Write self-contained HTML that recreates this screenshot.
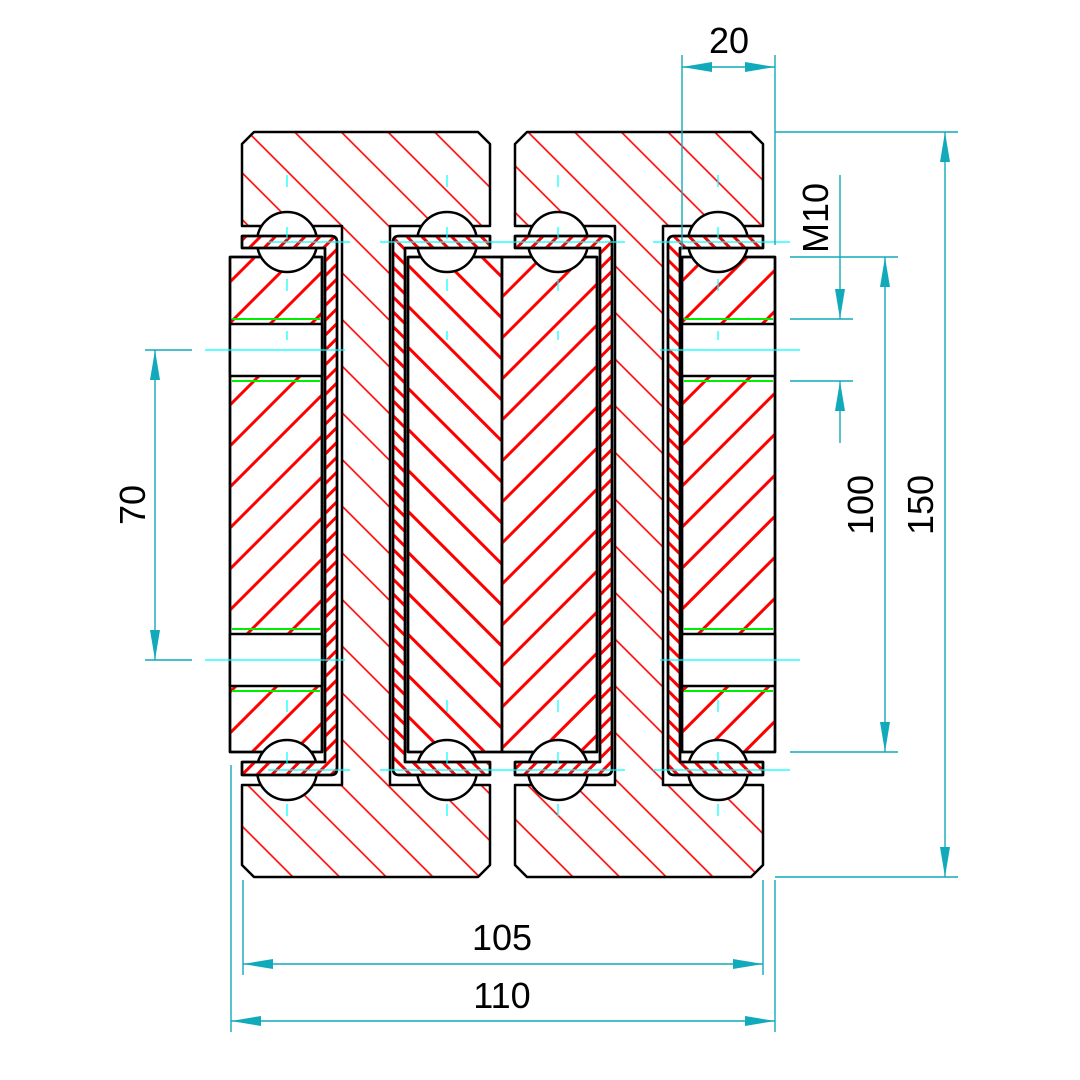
<!DOCTYPE html>
<html><head><meta charset="utf-8"><style>html,body{margin:0;padding:0;background:#fff}svg{display:block}</style></head>
<body>
<svg width="1080" height="1080" viewBox="0 0 1080 1080" xmlns="http://www.w3.org/2000/svg" font-family="Liberation Sans, sans-serif">
<defs>
<pattern id="hh" patternUnits="userSpaceOnUse" width="33" height="33" patternTransform="rotate(-45)"><line x1="16" y1="0" x2="16" y2="33" stroke="#f00" stroke-width="1.6"/></pattern>
<pattern id="sl" patternUnits="userSpaceOnUse" width="29" height="29" patternTransform="rotate(45)"><line x1="14" y1="0" x2="14" y2="29" stroke="#f00" stroke-width="3"/></pattern>
<pattern id="sr" patternUnits="userSpaceOnUse" width="29" height="29" patternTransform="rotate(-45)"><line x1="14" y1="0" x2="14" y2="29" stroke="#f00" stroke-width="3"/></pattern>
<pattern id="ch" patternUnits="userSpaceOnUse" width="10.5" height="10.5" patternTransform="rotate(45)"><line x1="5" y1="0" x2="5" y2="10.5" stroke="#f00" stroke-width="3"/></pattern>
<pattern id="ch2" patternUnits="userSpaceOnUse" width="10.5" height="10.5" patternTransform="rotate(-45)"><line x1="5" y1="0" x2="5" y2="10.5" stroke="#f00" stroke-width="3"/></pattern>
</defs>
<g stroke="#000" stroke-width="2.5" stroke-linejoin="round">
<path d="M254,132 L478,132 L490,144 L490,226 L390,226 L390,785 L490,785 L490,865 L478,877 L254,877 L242,865 L242,785 L342,785 L342,226 L242,226 L242,144 Z" fill="url(#hh)"/>
<path d="M527,132 L751,132 L763,144 L763,226 L663,226 L663,785 L763,785 L763,865 L751,877 L527,877 L515,865 L515,785 L615,785 L615,226 L515,226 L515,144 Z" fill="url(#hh)"/>
<rect x="230" y="257" width="92" height="495" fill="#fff"/>
<rect x="230" y="257" width="92" height="495" fill="url(#sl)"/>
<rect x="682" y="257" width="93" height="495" fill="#fff"/>
<rect x="682" y="257" width="93" height="495" fill="url(#sl)"/>
<rect x="408" y="257" width="94" height="495" fill="#fff"/>
<rect x="408" y="257" width="94" height="495" fill="url(#sr)"/>
<rect x="502" y="257" width="95" height="495" fill="#fff"/>
<rect x="502" y="257" width="95" height="495" fill="url(#sl)"/>
<rect x="230" y="324" width="92" height="52" fill="#fff"/>
<rect x="230" y="634" width="92" height="52" fill="#fff"/>
<rect x="682" y="324" width="93" height="52" fill="#fff"/>
<rect x="682" y="634" width="93" height="52" fill="#fff"/>
<g fill="#fff">
<circle cx="287" cy="242" r="30"/><circle cx="447" cy="242" r="30"/><circle cx="558" cy="242" r="30"/><circle cx="718" cy="242" r="30"/>
<circle cx="287" cy="770" r="30"/><circle cx="447" cy="770" r="30"/><circle cx="558" cy="770" r="30"/><circle cx="718" cy="770" r="30"/>
</g>
<path d="M242,236 L331,236 Q337,236 337,242 L337,769 Q337,775 331,775 L242,775 L242,762 L325,762 L325,248 L242,248 Z" fill="#fff"/>
<path d="M242,236 L331,236 Q337,236 337,242 L337,769 Q337,775 331,775 L242,775 L242,762 L325,762 L325,248 L242,248 Z" fill="url(#ch)"/>
<path d="M490,236 L399,236 Q393,236 393,242 L393,769 Q393,775 399,775 L490,775 L490,762 L405,762 L405,248 L490,248 Z" fill="#fff"/>
<path d="M490,236 L399,236 Q393,236 393,242 L393,769 Q393,775 399,775 L490,775 L490,762 L405,762 L405,248 L490,248 Z" fill="url(#ch2)"/>
<path d="M515,236 L606,236 Q612,236 612,242 L612,769 Q612,775 606,775 L515,775 L515,762 L600,762 L600,248 L515,248 Z" fill="#fff"/>
<path d="M515,236 L606,236 Q612,236 612,242 L612,769 Q612,775 606,775 L515,775 L515,762 L600,762 L600,248 L515,248 Z" fill="url(#ch)"/>
<path d="M763,236 L674,236 Q668,236 668,242 L668,769 Q668,775 674,775 L763,775 L763,762 L680,762 L680,248 L763,248 Z" fill="#fff"/>
<path d="M763,236 L674,236 Q668,236 668,242 L668,769 Q668,775 674,775 L763,775 L763,762 L680,762 L680,248 L763,248 Z" fill="url(#ch2)"/>
</g>
<g stroke="#0e0" stroke-width="2">
<line x1="232" y1="319" x2="320" y2="319"/><line x1="232" y1="381" x2="320" y2="381"/>
<line x1="232" y1="629" x2="320" y2="629"/><line x1="232" y1="691" x2="320" y2="691"/>
<line x1="684" y1="319" x2="773" y2="319"/><line x1="684" y1="381" x2="773" y2="381"/>
<line x1="684" y1="629" x2="773" y2="629"/><line x1="684" y1="691" x2="773" y2="691"/>
</g>
<g stroke="#0ff" stroke-width="1.2" stroke-dasharray="12,40">
<line x1="287" y1="175" x2="287" y2="340"/><line x1="447" y1="175" x2="447" y2="340"/><line x1="558" y1="175" x2="558" y2="340"/><line x1="718" y1="175" x2="718" y2="340"/>
<line x1="287" y1="700" x2="287" y2="840"/><line x1="447" y1="700" x2="447" y2="840"/><line x1="558" y1="700" x2="558" y2="840"/><line x1="718" y1="700" x2="718" y2="840"/>
</g>
<g stroke="#0ff" stroke-width="1.2">
<line x1="205" y1="350" x2="345" y2="350"/><line x1="205" y1="660" x2="345" y2="660"/>
<line x1="660" y1="350" x2="800" y2="350"/><line x1="660" y1="660" x2="800" y2="660"/>
<line x1="268" y1="242" x2="350" y2="242"/><line x1="380" y1="242" x2="625" y2="242"/><line x1="653" y1="242" x2="790" y2="242"/>
<line x1="268" y1="770" x2="350" y2="770"/><line x1="380" y1="770" x2="625" y2="770"/><line x1="653" y1="770" x2="790" y2="770"/>
</g>
<g stroke="#1ab" stroke-width="1.4" fill="none">
<line x1="682" y1="55" x2="682" y2="250"/><line x1="775" y1="55" x2="775" y2="245"/><line x1="682" y1="67" x2="775" y2="67"/>
<line x1="775" y1="132" x2="958" y2="132"/><line x1="775" y1="877" x2="958" y2="877"/><line x1="945" y1="132" x2="945" y2="877"/>
<line x1="790" y1="257" x2="898" y2="257"/><line x1="790" y1="752" x2="898" y2="752"/><line x1="885" y1="257" x2="885" y2="752"/>
<line x1="790" y1="319" x2="853" y2="319"/><line x1="790" y1="381" x2="853" y2="381"/><line x1="840" y1="175" x2="840" y2="319"/><line x1="840" y1="381" x2="840" y2="443"/>
<line x1="145" y1="350" x2="192" y2="350"/><line x1="145" y1="660" x2="192" y2="660"/><line x1="155" y1="350" x2="155" y2="660"/>
<line x1="243" y1="880" x2="243" y2="975"/><line x1="763" y1="880" x2="763" y2="975"/><line x1="243" y1="964" x2="763" y2="964"/>
<line x1="231" y1="765" x2="231" y2="1032"/><line x1="775" y1="880" x2="775" y2="1032"/><line x1="231" y1="1021" x2="775" y2="1021"/>
</g>
<g fill="#1ab">
<path d="M682,67 l30,-5 v10z"/><path d="M775,67 l-30,-5 v10z"/>
<path d="M945,132 l-5,30 h10z"/><path d="M945,877 l-5,-30 h10z"/>
<path d="M885,257 l-5,30 h10z"/><path d="M885,752 l-5,-30 h10z"/>
<path d="M840,319 l-5,-30 h10z"/><path d="M840,381 l-5,30 h10z"/>
<path d="M155,350 l-5,30 h10z"/><path d="M155,660 l-5,-30 h10z"/>
<path d="M243,964 l30,-5 v10z"/><path d="M763,964 l-30,-5 v10z"/>
<path d="M231,1021 l30,-5 v10z"/><path d="M775,1021 l-30,-5 v10z"/>
</g>
<g fill="#000" font-size="36" text-anchor="middle">
<text x="729" y="53">20</text>
<text x="502" y="950">105</text>
<text x="502" y="1008">110</text>
<text transform="translate(145,505) rotate(-90)">70</text>
<text transform="translate(873,505) rotate(-90)">100</text>
<text transform="translate(933,505) rotate(-90)">150</text>
<text transform="translate(828,218) rotate(-90)">M10</text>
</g>
</svg>
</body></html>
